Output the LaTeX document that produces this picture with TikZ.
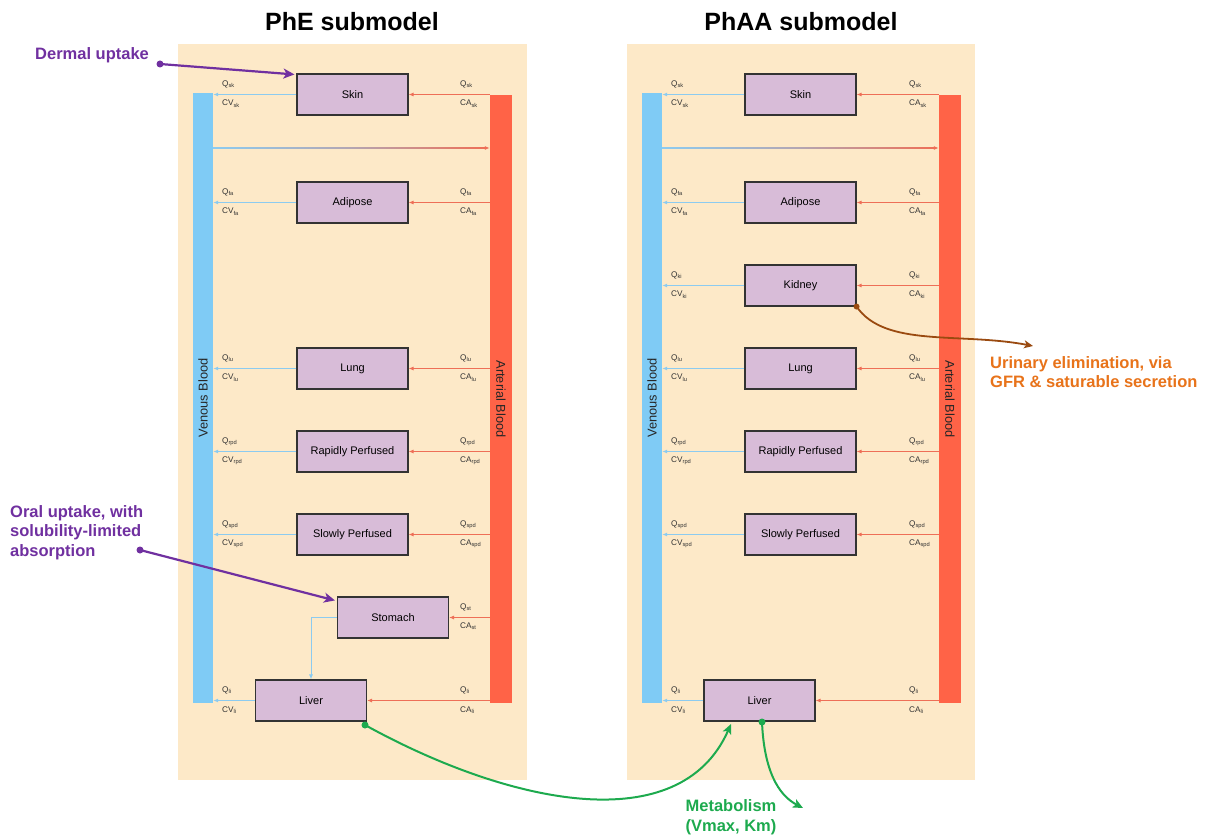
\documentclass[tikz,border=0pt]{standalone}
\usepackage{fontspec}
\setmainfont{Liberation Sans}
\usetikzlibrary{arrows.meta,calc}
\definecolor{panelbg}{HTML}{FDE9C8}
\definecolor{venbl}{HTML}{7FCBF5}
\definecolor{artrd}{HTML}{FF6347}
\definecolor{organfill}{HTML}{D8BCD8}
\definecolor{thinbl}{HTML}{8CCBF0}
\definecolor{thinrd}{HTML}{EE6F57}
\definecolor{purp}{HTML}{7030A0}
\definecolor{orng}{HTML}{E8731A}
\definecolor{brwn}{HTML}{9A4A10}
\definecolor{grn}{HTML}{1DAA4E}
\definecolor{labgray}{HTML}{333333}
\tikzset{
  organ/.style={draw=labgray, line width=1.1pt, fill=organfill, minimum width=111pt, minimum height=41pt, inner sep=0pt, font=\fontsize{11}{13}\selectfont},
  venbar/.style={fill=venbl, minimum width=20pt, inner sep=0pt},
  artbar/.style={fill=artrd, minimum width=22pt, inner sep=0pt},
  bartext/.style={font=\fontsize{12.8}{15}\selectfont, text=black!85},
  venarr/.style={draw=thinbl, line width=1pt, -{Latex[length=5pt,width=4pt]}},
  artarr/.style={draw=thinrd, line width=1pt, -{Latex[length=5pt,width=4pt]}},
  lab/.style={anchor=west, inner sep=0pt, text=labgray, font=\fontsize{8.2}{9}\selectfont},
  title/.style={font=\fontsize{25}{29}\selectfont\bfseries},
  note/.style={font=\fontsize{16.5}{19.5}\selectfont\bfseries, align=left, inner sep=0pt},
}
\begin{document}
\begin{tikzpicture}[x=1pt,y=-1pt]
\useasboundingbox (0,0) rectangle (1221,837);
\fill[white] (0,0) rectangle (1221,837);
% panels
\fill[panelbg] (178,44) rectangle (527,780);
\fill[panelbg] (627,44) rectangle (975,780);
\node[title] (tL) at (352,22) {PhE submodel};
\node[title] (tR) at (801,22) {PhAA submodel};
% bars
\node[venbar, minimum height=610pt] (Lven) at (203,398) {};
\node[artbar, minimum height=608pt] (Lart) at (501,399) {};
\node[venbar, minimum height=610pt] (Rven) at (652,398) {};
\node[artbar, minimum height=608pt] (Rart) at (950,399) {};
\node[bartext, rotate=90] (LvenT) at (Lven) {Venous Blood};
\node[bartext, rotate=-90] (LartT) at (Lart) {Arterial Blood};
\node[bartext, rotate=90] (RvenT) at (Rven) {Venous Blood};
\node[bartext, rotate=-90] (RartT) at (Rart) {Arterial Blood};
% shunt lines
\coordinate (Ls1) at (Lven.east |- 0,148);
\coordinate (Ls2) at (Lart.west |- 0,148);
\coordinate (Rs1) at (Rven.east |- 0,148);
\coordinate (Rs2) at (Rart.west |- 0,148);
\shade[left color=thinbl, right color=thinrd, middle color=thinbl!60!thinrd] ($(Ls1)+(0,-0.5)$) rectangle ($(Ls2)+(-4,0.5)$);
\shade[left color=thinbl, right color=thinrd, middle color=thinbl!60!thinrd] ($(Rs1)+(0,-0.5)$) rectangle ($(Rs2)+(-4,0.5)$);
\draw[artarr] ($(Ls2)+(-6,0)$) -- (Ls2);
\draw[artarr] ($(Rs2)+(-6,0)$) -- (Rs2);
% left organs
\foreach \n/\t/\y/\s in {skin/Skin/94.5/sk, adipose/Adipose/202.5/fa, lung/Lung/368.5/lu, rpd/Rapidly Perfused/451.5/rpd, spd/Slowly Perfused/534.5/spd}{
  \node[organ] (L\n) at (352.5,\y) {\t};
  \draw[venarr] (L\n.west) -- (Lven.east |- L\n.west);
  \draw[artarr] (Lart.west |- L\n.east) -- (L\n.east);
  \node[lab] (LQa\n) at (222,{\y-10}) {Q\textsubscript{\s}};
  \node[lab] (LCV\n) at (222,{\y+9}) {CV\textsubscript{\s}};
  \node[lab] (LQb\n) at (460,{\y-10}) {Q\textsubscript{\s}};
  \node[lab] (LCA\n) at (460,{\y+9}) {CA\textsubscript{\s}};
}
\node[organ] (Lstomach) at (393,617.5) {Stomach};
\draw[artarr] (Lart.west |- Lstomach.east) -- (Lstomach.east);
\node[lab] (LQbst) at (460,607.5) {Q\textsubscript{st}};
\node[lab] (LCAst) at (460,626.5) {CA\textsubscript{st}};
\node[organ] (Lliver) at (311,700.5) {Liver};
\draw[venarr] (Lstomach.west) -| (Lliver.north);
\draw[venarr] (Lliver.west) -- (Lven.east |- Lliver.west);
\draw[artarr] (Lart.west |- Lliver.east) -- (Lliver.east);
\node[lab] (LQali) at (222,690) {Q\textsubscript{li}};
\node[lab] (LCVli) at (222,710) {CV\textsubscript{li}};
\node[lab] (LQbli) at (460,690) {Q\textsubscript{li}};
\node[lab] (LCAli) at (460,710) {CA\textsubscript{li}};
% right organs
\foreach \n/\t/\y/\s in {skin/Skin/94.5/sk, adipose/Adipose/202.5/fa, kidney/Kidney/285.5/ki, lung/Lung/368.5/lu, rpd/Rapidly Perfused/451.5/rpd, spd/Slowly Perfused/534.5/spd}{
  \node[organ] (R\n) at (800.5,\y) {\t};
  \draw[venarr] (R\n.west) -- (Rven.east |- R\n.west);
  \draw[artarr] (Rart.west |- R\n.east) -- (R\n.east);
  \node[lab] (RQa\n) at (671,{\y-10}) {Q\textsubscript{\s}};
  \node[lab] (RCV\n) at (671,{\y+9}) {CV\textsubscript{\s}};
  \node[lab] (RQb\n) at (909,{\y-10}) {Q\textsubscript{\s}};
  \node[lab] (RCA\n) at (909,{\y+9}) {CA\textsubscript{\s}};
}
\node[organ] (Rliver) at (759.5,700.5) {Liver};
\draw[venarr] (Rliver.west) -- (Rven.east |- Rliver.west);
\draw[artarr] (Rart.west |- Rliver.east) -- (Rliver.east);
\node[lab] (RQali) at (671,690) {Q\textsubscript{li}};
\node[lab] (RCVli) at (671,710) {CV\textsubscript{li}};
\node[lab] (RQbli) at (909,690) {Q\textsubscript{li}};
\node[lab] (RCAli) at (909,710) {CA\textsubscript{li}};
% annotations
\node[note, text=purp, anchor=west] (dermal) at (35,55) {Dermal uptake};
\coordinate (dermdot) at (160,64);
\fill[purp] (dermdot) circle (3.5);
\draw[purp, line width=2.2pt, -{Stealth[length=11pt,width=10pt,inset=3pt]}] (dermdot) -- ($(Lskin.north west)+(-2,1)$);
\node[note, text=purp, anchor=north west] (oral) at (10,505) {Oral uptake, with\\solubility-limited\\absorption};
\coordinate (oraldot) at (140,550);
\fill[purp] (oraldot) circle (3.5);
\draw[purp, line width=2.2pt, -{Stealth[length=11pt,width=10pt,inset=3pt]}] (oraldot) -- ($(Lstomach.north west)+(-2,4)$);
\node[note, text=orng, anchor=north west] (urin) at (990,356) {Urinary elimination, via\\GFR \& saturable secretion};
\fill[brwn] (Rkidney.south east) circle (3);
\coordinate (urinend) at (1033,346);
\draw[brwn, line width=1.8pt, -{Stealth[length=9pt,width=8pt,inset=2.5pt]}] (Rkidney.south east) .. controls (885,348) and (960,332) .. (urinend);
\node[note, text=grn, align=center] (metab) at (731,817) {Metabolism\\(Vmax, Km)};
\coordinate (ldot) at (365,725);
\fill[grn] (ldot) circle (3.5);
\draw[grn, line width=2pt, -{Stealth[length=10pt,width=9pt,inset=2.5pt]}] (ldot) .. controls (510,805) and (680,840) .. (731,724);
\coordinate (rdot) at (762,722);
\coordinate (metend) at (803,808);
\fill[grn] (rdot) circle (3.5);
\draw[grn, line width=2pt, -{Stealth[length=10pt,width=9pt,inset=2.5pt]}] (rdot) .. controls (764,770) and (778,795) .. (metend);
\end{tikzpicture}
\end{document}
